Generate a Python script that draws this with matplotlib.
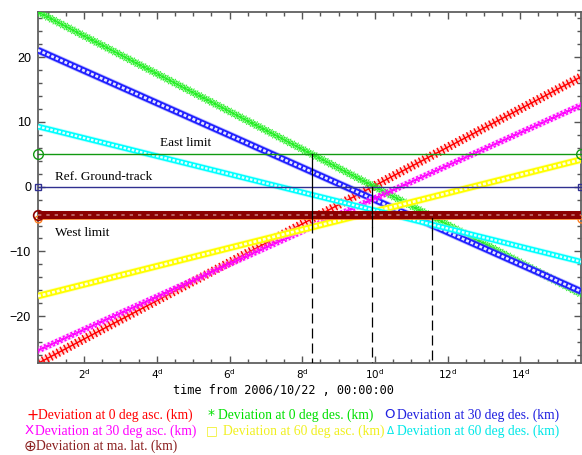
import matplotlib
matplotlib.use('Agg')
import matplotlib.pyplot as plt
import matplotlib.patheffects as pe
from matplotlib.ticker import MultipleLocator, FixedLocator

# days from 2006/10/22 of first and last sample
t_span = [0.73, 15.68]

# deviation (km) at first / last sample of each series
dev_0_asc = [-27.3, 17.0]
dev_0_des = [27.0, -16.6]
dev_30_des = [21.1, -16.2]
dev_30_asc = [-25.3, 12.6]
dev_60_asc = [-16.9, 4.2]
dev_60_des = [9.3, -11.6]
dev_ma_lat = [-4.3, -4.3]

# reference lines (km)
east_limit = 5
ref_track = 0
west_limit = -5

# crossing epochs (days) and the y range of their markers
cross_days = [8.27, 9.93, 11.56]
cross_top = [5, 0, -4.9]
cross_solid_end = [-5.6, -6.2, -6.7]

xtick_days = [2, 4, 6, 8, 10, 12, 14]
ytick_km = [-20, -10, 0, 10, 20]

legend_rows = [
    [("+", "Deviation at 0 deg asc. (km)", "#ff0000"),
     ("*", "Deviation at 0 deg des. (km)", "#00e000"),
     ("O", "Deviation at 30 deg des. (km)", "#2020e0")],
    [("X", "Deviation at 30 deg asc. (km)", "#ff00ff"),
     ("\u25a1", "Deviation at 60 deg asc. (km)", "#f0f020"),
     ("\u0394", "Deviation at 60 deg des. (km)", "#00e8e8")],
    [("\u2295", "Deviation at ma. lat. (km)", "#8b2020")],
]
sym_size = {"+": 10.5, "*": 10, "O": 9.5, "X": 9.5, "\u25a1": 9, "\u0394": 7.5, "\u2295": 11}


def ticks(angles, color, spacing=3.0, length=0.9, lw=0.9):
    return [pe.TickedStroke(angle=a, spacing=spacing, length=length,
                            linewidth=lw, foreground=color) for a in angles]


def crossed_line(ax, y, color, light, angles, z, lw=0.9):
    # band of small cross-like markers
    ax.plot(t_span, y, color=light, lw=5.0, alpha=0.35, solid_capstyle='butt', zorder=z)
    ax.plot(t_span, y, color=color, lw=1.0, zorder=z + 0.1,
            path_effects=ticks(angles, color, lw=lw) + [pe.Normal()])


def hollow_line(ax, y, color, light, width, z):
    # band of small hollow markers (circles, squares, triangles)
    ax.plot(t_span, y, color=light, lw=width + 1.2, alpha=0.5, solid_capstyle='butt', zorder=z)
    ax.plot(t_span, y, color=color, lw=width, solid_capstyle='butt', zorder=z + 0.1)
    ax.plot(t_span, y, color='white', lw=width * 0.42, ls=(0, (1.1, 0.7)),
            solid_capstyle='butt', alpha=0.9, zorder=z + 0.2)


fig = plt.figure(figsize=(5.82, 4.55), dpi=100)
ax = fig.add_axes([38 / 582, 1 - 362.7 / 455, (581.3 - 38) / 582, (362.7 - 12) / 455])

crossed_line(ax, dev_0_asc, '#ff0000', '#ff8080', (90, -90), 2, lw=1.0)
crossed_line(ax, dev_0_des, '#22ee22', '#90ff90', (90, -90, 45, -135, 135, -45), 2.5, lw=0.6)
hollow_line(ax, dev_30_des, '#2020ff', '#8080ff', 4.6, 3)
crossed_line(ax, dev_30_asc, '#ff00ff', '#ff90ff', (45, -135, 135, -45), 3.5, lw=0.7)
hollow_line(ax, dev_60_asc, '#ffff00', '#ffff90', 4.6, 4)
hollow_line(ax, dev_60_des, '#00ffff', '#90ffff', 4.0, 4.5)

# reference lines
ax.plot(t_span, [east_limit] * 2, color='#119911', lw=1.0, marker='o', ms=7,
        mfc='none', mew=1.0, clip_on=False, zorder=6)
ax.plot(t_span, [ref_track] * 2, color='#303090', lw=1.0, marker='s', ms=5,
        mfc='none', mew=1.0, clip_on=False, zorder=6)
ax.plot(t_span, [west_limit] * 2, color='#ff8020', lw=1.2, marker='o', ms=5,
        mfc='none', mew=1.0, clip_on=False, zorder=6)

# maximum latitude deviation: dark band on top
ax.plot(t_span, dev_ma_lat, color='#8b0000', lw=5.8, solid_capstyle='butt', zorder=7)
ax.plot(t_span, dev_ma_lat, color='#c07070', lw=1.2, ls=(0, (2, 3)), zorder=7.1)
ax.plot(t_span[:1], dev_ma_lat[:1], color='#8b0000', marker='o', ms=7, mfc='none',
        mew=1.2, clip_on=False, zorder=7.2)

# crossing epochs
for xd, top, mid in zip(cross_days, cross_top, cross_solid_end):
    ax.plot([xd, xd], [top, mid], color='black', lw=0.9, zorder=8)
    ax.plot([xd, xd], [mid, -27.2], color='black', lw=0.9, ls=(0, (8, 4)), zorder=8)

ax.text(4.08, 6.75, "East limit", fontsize=9.5, family='Liberation Serif', va='center', zorder=9)
ax.text(1.2, 1.55, "Ref. Ground-track", fontsize=9.5, family='Liberation Serif', va='center', zorder=9)
ax.text(1.2, -7.15, "West limit", fontsize=9.5, family='Liberation Serif', va='center', zorder=9)

ax.set_xlim(t_span)
ax.set_ylim(-27.2, 27.0)

ax.xaxis.set_major_locator(FixedLocator(xtick_days))
ax.set_xticklabels([r'$\mathsf{%d}^{\mathsf{d}}$' % d for d in xtick_days], fontsize=7.5)
ax.xaxis.set_minor_locator(MultipleLocator(0.5))
ax.yaxis.set_major_locator(FixedLocator(ytick_km))
ax.set_yticklabels(['\u2212%d' % -v if v < 0 else '%d' % v for v in ytick_km],
                   fontsize=9, family='Liberation Sans')
ax.yaxis.set_minor_locator(MultipleLocator(2))

ax.tick_params(which='both', direction='in', top=True, right=True, color='#555555', width=1.0)
ax.tick_params(which='major', length=5)
ax.tick_params(which='minor', length=3)
ax.tick_params(axis='x', pad=3)
ax.tick_params(axis='y', pad=5)
for s in ax.spines.values():
    s.set_color('#606060')
    s.set_linewidth(1.3)

fig.text(283 / 582, 1 - 390 / 455, "time from 2006/10/22 , 00:00:00",
         family='DejaVu Sans Mono', fontsize=8.6, ha='center', va='center')

# legend written as colored text below the axes
col_sym_x = [[32.5, 211, 389.5], [29.5, 212, 390], [29.5]]
col_txt_x = [[38.5, 218.5, 397], [35, 223, 397], [36]]
row_y = [415, 431, 446]
for r, row in enumerate(legend_rows):
    for c, (sym, txt, col) in enumerate(row):
        fig.text(col_sym_x[r][c] / 582, 1 - row_y[r] / 455, sym, color=col,
                 fontsize=sym_size[sym], family='DejaVu Sans', ha='center', va='center')
        fig.text(col_txt_x[r][c] / 582, 1 - row_y[r] / 455, txt, color=col, fontsize=9.8,
                 family='Liberation Serif', ha='left', va='center')

fig.savefig('out.png', dpi=100)
